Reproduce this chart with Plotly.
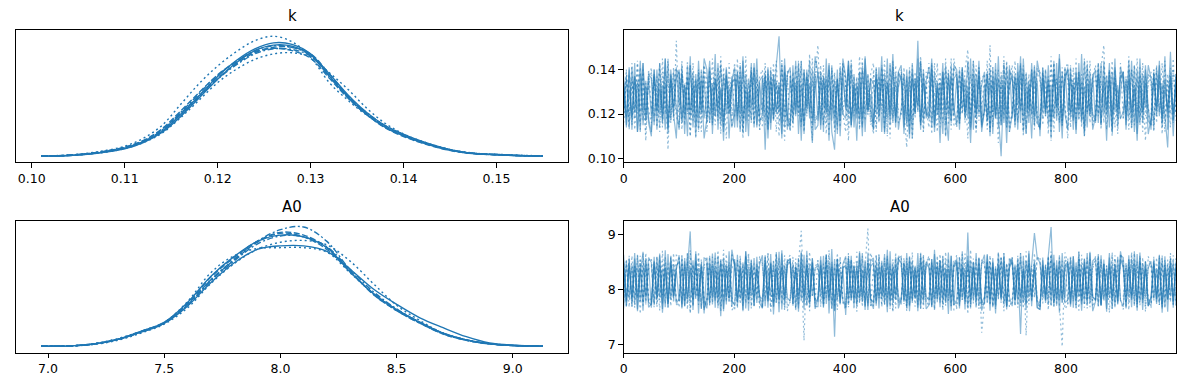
import numpy as np
import plotly.graph_objects as go

BLUE = "#1f77b4"
TRACE_RGBA = "rgba(31,119,180,0.5)"

# ---------------- KDE of k (per chain densities on a common grid) ----------------
k_kde_grid = [0.101, 0.104, 0.107, 0.110, 0.112, 0.114, 0.116, 0.118, 0.120, 0.122, 0.124, 0.126, 0.128,
              0.130, 0.132, 0.134, 0.136, 0.138, 0.140, 0.142, 0.144, 0.146, 0.148, 0.150, 0.152, 0.155]
k_kde_c0 = [0.1, 0.4, 1.5, 3.6, 6.5, 11.2, 18.8, 27.5, 36.2, 43.5, 48.8, 51.5, 50.8, 46.5, 36.5, 27, 19, 13.2, 9.3, 6.2, 3.7, 2.0, 1.1, 0.7, 0.4, 0.1]
k_kde_c1 = [0.2, 0.6, 2.0, 4.6, 8.2, 14.0, 23.5, 33.0, 41.0, 47.5, 52.5, 54.5, 52.0, 45.0, 33.5, 25.5, 18.8, 14.0, 10.0, 6.5, 3.9, 2.1, 1.2, 0.9, 0.6, 0.2]
k_kde_c2 = [0.1, 0.5, 1.7, 4.0, 7.0, 12.0, 19.5, 27.5, 35.5, 42.0, 47.0, 49.5, 49.5, 46.5, 37.5, 27.5, 19.5, 13.5, 9.5, 6.5, 4.0, 2.1, 1.1, 0.8, 0.4, 0.1]
k_kde_c3 = [0.1, 0.4, 1.6, 3.8, 6.6, 11.5, 19.0, 27.0, 35.0, 41.5, 46.5, 48.8, 48.5, 45.5, 36.5, 27.5, 20.0, 14.0, 9.8, 6.5, 4.0, 2.2, 1.2, 0.8, 0.4, 0.1]
k_kde_c4 = [0.1, 0.4, 1.4, 3.4, 6.2, 10.8, 18.0, 26.5, 35.0, 42.5, 48.0, 50.5, 50.0, 46.0, 37.5, 28.0, 20.0, 14.0, 10.0, 6.8, 4.2, 2.2, 1.2, 0.8, 0.4, 0.1]
k_kde_c5 = [0.1, 0.4, 1.4, 3.5, 6.2, 10.5, 17.5, 25.5, 33.5, 39.5, 44.0, 46.5, 47.0, 45.0, 38.0, 30.5, 22.0, 15.0, 10.2, 6.8, 4.2, 2.3, 1.3, 0.9, 0.5, 0.2]
k_kde_c6 = [0.2, 0.5, 1.8, 4.2, 7.2, 12.5, 20.5, 29.0, 37.0, 43.0, 47.5, 49.0, 48.0, 44.5, 35.5, 26.5, 19.0, 13.0, 9.0, 6.0, 3.6, 1.9, 1.0, 0.7, 0.4, 0.1]
k_kde_c7 = [0.1, 0.5, 1.6, 3.9, 6.8, 11.8, 19.8, 28.5, 36.8, 43.0, 48.0, 50.2, 49.5, 45.8, 36.2, 26.8, 19.2, 13.3, 9.3, 6.2, 3.8, 2.0, 1.1, 0.7, 0.4, 0.1]

# ---------------- KDE of A0 ----------------
a0_kde_grid = [6.97, 7.1, 7.2, 7.3, 7.4, 7.5, 7.6, 7.7, 7.8, 7.9, 8.0, 8.1, 8.2, 8.3, 8.4, 8.5, 8.6, 8.7, 8.8, 8.9, 9.0, 9.13]
a0_kde_c0 = [0.005, 0.008, 0.03, 0.08, 0.16, 0.26, 0.45, 0.71, 0.93, 1.08, 1.12, 1.12, 1.06, 0.86, 0.64, 0.47, 0.32, 0.21, 0.11, 0.04, 0.015, 0.005]
a0_kde_c1 = [0.005, 0.007, 0.025, 0.07, 0.15, 0.25, 0.43, 0.70, 0.92, 1.08, 1.16, 1.18, 1.13, 0.95, 0.70, 0.46, 0.29, 0.15, 0.07, 0.03, 0.012, 0.005]
a0_kde_c2 = [0.005, 0.008, 0.03, 0.08, 0.17, 0.27, 0.48, 0.77, 0.99, 1.17, 1.27, 1.24, 1.10, 0.84, 0.58, 0.40, 0.26, 0.14, 0.07, 0.03, 0.012, 0.005]
a0_kde_c3 = [0.005, 0.008, 0.03, 0.08, 0.16, 0.26, 0.46, 0.74, 0.97, 1.17, 1.30, 1.33, 1.17, 0.85, 0.58, 0.40, 0.26, 0.14, 0.07, 0.03, 0.012, 0.005]
a0_kde_c4 = [0.005, 0.008, 0.03, 0.08, 0.17, 0.27, 0.49, 0.78, 1.00, 1.17, 1.24, 1.22, 1.10, 0.83, 0.59, 0.41, 0.27, 0.15, 0.075, 0.032, 0.013, 0.005]
a0_kde_c5 = [0.005, 0.009, 0.035, 0.09, 0.17, 0.27, 0.50, 0.82, 1.01, 1.09, 1.10, 1.10, 1.05, 0.82, 0.59, 0.41, 0.27, 0.15, 0.075, 0.03, 0.012, 0.005]
a0_kde_c6 = [0.005, 0.008, 0.03, 0.08, 0.165, 0.26, 0.47, 0.74, 0.96, 1.16, 1.26, 1.22, 1.08, 0.83, 0.59, 0.41, 0.27, 0.15, 0.075, 0.033, 0.014, 0.005]
a0_kde_c7 = [0.005, 0.008, 0.03, 0.08, 0.16, 0.26, 0.46, 0.73, 0.95, 1.14, 1.23, 1.22, 1.11, 0.86, 0.61, 0.42, 0.27, 0.15, 0.075, 0.032, 0.013, 0.005]

# ---------------- Trace of k (values in thousandths, thinned draws) ----------------
k_trace_c0 = [134,115,141,118,137,112,129,143,117,136, 119,140,113,131,122,145,114,138,120,109,
              139,116,133,110,142,121,135,113,140,118, 128,144,111,136,119,132,108,141,123,137,
              114,139,120,146,112,130,117,143,115,134, 121,138,109,135,118,142,155,116,139,113,
              137,120,144,111,133,116,140,124,107,138, 117,135,112,145,119,131,114,140,110,136,
              123,142,115,133,108,139,118,146,121,129, 113,141,119,136,111,134,122,147,116,132,
              138,114,131,109,143,120,137,115,140,118, 126,145,112,134,117,139,121,108,142,119,
              136,113,141,118,129,107,138,122,144,115, 133,117,140,111,137,120,101,135,114,142,
              118,138,124,146,112,131,116,143,119,135, 110,139,122,136,115,144,117,133,109,141,
              121,137,113,140,118,147,112,134,120,138, 116,143,125,132,108,139,119,145,114,130,
              139,115,136,121,142,111,133,117,140,123, 113,138,119,144,116,131,122,137,110,134]
k_trace_c1 = [118,139,113,135,121,144,116,132,108,140, 122,137,114,142,119,133,104,138,117,153,
              115,140,120,136,110,143,123,134,112,139, 131,116,145,119,137,111,141,124,135,114,
              138,120,133,109,146,117,136,122,140,113, 127,143,115,138,118,134,110,141,121,137,
              112,139,124,144,116,130,119,147,113,136, 151,118,135,111,140,122,138,115,143,120,
              133,108,141,119,136,114,145,121,131,117, 139,112,137,123,144,110,134,118,142,116,
              120,141,114,137,109,135,124,146,118,132, 143,117,130,112,139,121,145,115,136,119,
              114,138,120,140,149,116,133,111,141,123, 136,113,142,118,131,107,139,122,144,115,
              121,137,116,143,110,134,119,140,113,138, 140,115,132,120,146,112,136,117,141,124,
              109,142,118,135,122,138,114,144,116,133, 137,119,141,151,113,139,120,134,111,143,
              118,136,124,140,115,145,119,131,108,138, 134,112,139,121,143,117,135,114,140,120]
k_trace_c2 = [137,114,131,119,143,112,138,121,135,116, 110,140,122,134,117,145,113,136,119,141,
              124,138,111,142,118,133,115,144,120,136, 116,139,121,147,113,131,118,140,109,135,
              141,117,135,112,138,122,143,114,132,119, 136,104,140,116,137,120,134,111,145,118,
              113,142,119,135,108,139,123,144,115,131, 139,115,137,120,143,112,104,136,117,141,
              122,144,114,138,118,133,110,140,121,136, 116,137,125,146,112,134,119,141,114,139,
              135,111,140,117,136,121,145,113,138,120, 118,143,115,132,107,139,122,137,116,142,
              140,117,134,121,144,114,131,119,139,112, 123,138,110,141,118,136,115,143,120,133,
              137,114,139,116,145,121,132,109,140,119, 113,136,120,142,117,138,123,147,115,134,
              141,118,133,111,139,116,144,120,135,113, 119,140,115,137,122,143,112,136,118,141,
              136,120,144,114,131,108,138,121,142,117, 115,139,123,135,119,146,113,137,120,133]
k_trace_c3 = [116,136,120,143,113,134,121,140,111,138, 139,118,132,114,145,120,137,116,141,122,
              121,144,115,137,119,133,109,139,124,142, 112,135,122,140,117,146,114,136,120,131,
              143,119,138,111,134,123,141,115,137,118, 117,140,113,136,121,144,116,133,108,139,
              137,114,142,120,135,112,139,122,145,116, 120,138,115,133,110,141,119,136,114,143,
              134,118,145,123,137,113,140,117,132,121, 111,139,116,142,120,135,109,144,118,137,
              140,121,105,136,115,139,122,143,112,134, 118,142,120,131,114,137,110,140,123,145,
              136,115,139,118,143,121,134,113,141,116, 122,144,112,135,119,140,117,146,114,132,
              139,117,136,123,142,111,138,120,133,115, 114,141,119,137,108,143,122,135,117,140,
              143,120,134,116,139,114,145,121,131,118, 117,137,113,142,124,136,110,140,119,138,
              135,119,146,115,133,121,141,112,137,122, 120,140,116,138,111,144,118,134,121,139]
k_trace_c4 = [135,119,140,113,137,122,144,115,132,118, 112,138,120,143,116,134,111,140,123,136,
              140,117,133,121,146,114,138,119,135,109, 118,141,115,136,123,142,112,137,120,134,
              136,114,142,118,131,110,139,124,145,116, 120,137,113,140,117,135,121,143,114,138,
              141,116,134,122,144,111,137,118,140,113, 115,139,123,136,108,142,119,134,117,145,
              137,120,143,114,133,118,140,112,138,122, 113,136,117,141,121,145,115,132,119,139,
              142,118,137,111,139,120,153,116,134,121, 119,140,114,135,122,143,110,138,117,136,
              138,116,141,120,132,113,144,119,137,114, 121,139,112,136,118,146,115,133,107,140,
              136,117,143,122,138,111,135,120,142,116, 114,141,119,134,109,139,123,145,116,137,
              140,121,136,113,143,118,132,114,139,120, 117,138,115,144,120,135,112,141,122,136,
              139,113,140,119,133,116,145,121,134,111, 118,137,122,142,114,136,120,148,117,138]
k_trace_c5 = [122,140,115,136,118,143,113,138,120,134, 141,116,137,112,139,121,145,117,133,119,
              114,138,122,144,110,136,119,140,116,142, 136,120,133,115,141,118,137,109,143,121,
              119,145,113,139,122,134,116,141,120,137, 140,115,138,121,143,112,135,118,139,114,
              117,136,123,141,114,140,120,133,108,144, 137,119,142,116,135,122,139,113,141,120,
              112,140,118,137,121,146,115,134,119,138, 143,114,136,120,139,111,142,117,133,122,
              120,137,115,141,118,135,124,144,112,139, 134,111,143,119,136,116,140,121,145,115,
              116,141,120,133,109,138,123,142,117,136, 138,115,151,114,140,120,134,118,143,112,
              121,144,117,136,113,139,122,137,115,141, 135,118,140,111,143,119,136,116,138,123,
              113,139,121,145,117,134,110,141,120,137, 142,120,135,116,138,122,144,114,131,118,
              118,137,113,140,124,136,115,143,119,134, 139,116,142,121,133,112,138,120,145,117]
k_trace_c6 = [119,137,114,141,121,135,112,143,117,138, 136,115,140,120,133,113,144,118,139,122,
              113,142,118,136,122,139,110,137,121,145, 140,116,134,119,143,115,138,120,132,114,
              121,139,112,144,117,136,123,141,114,135, 137,118,141,113,138,121,133,109,142,119,
              115,136,120,143,116,140,122,134,118,146, 139,113,137,121,142,117,135,111,140,120,
              118,144,115,133,120,139,114,145,122,136, 134,120,141,112,137,118,143,116,138,113,
              122,138,116,140,109,136,121,144,117,135, 141,114,139,120,134,111,142,119,137,123,
              115,140,122,136,118,145,113,138,120,133, 139,117,134,121,143,114,137,116,141,112,
              120,136,113,142,119,138,122,140,115,144, 137,121,140,115,133,118,143,112,139,120,
              113,141,117,138,122,135,110,142,119,136, 140,116,143,120,137,114,139,121,133,118,
              121,135,118,144,112,140,116,138,123,142, 136,113,141,119,134,120,105,139,117,137]
k_trace_c7 = [131,118,138,115,136,120,141,117,134,122, 116,137,121,143,114,139,118,135,123,140,
              138,113,134,120,142,117,136,112,139,121, 119,140,116,135,122,144,115,138,120,133,
              137,121,143,114,132,119,140,116,136,113, 115,138,122,141,117,134,120,145,118,139,
              140,116,133,119,144,113,137,121,135,117, 121,142,115,137,118,140,112,136,122,143,
              136,114,139,121,134,117,143,120,138,115, 118,141,123,136,113,139,119,144,116,134,
              139,120,135,114,142,118,137,115,140,122, 114,136,119,143,121,135,116,139,113,141,
              137,122,140,116,133,120,144,114,136,119, 120,138,114,141,119,136,122,143,117,135,
              142,115,137,121,139,113,134,118,141,120, 117,139,122,135,116,143,119,137,114,140,
              136,114,141,120,138,117,133,121,144,115, 121,143,116,134,119,140,114,138,122,137,
              139,117,135,113,142,121,137,116,134,120, 115,140,120,137,118,135,122,141,116,138]

# ---------------- Trace of A0 (values in hundredths, thinned draws) ----------------
a0_trace_c0 = [838,772,856,781,843,764,829,868,776,847, 767,851,784,862,758,839,775,857,789,834,
               779,861,770,846,905,763,852,786,841,757, 848,773,865,780,837,752,858,787,845,769,
               855,778,842,761,869,783,836,771,859,790, 766,847,779,864,755,838,782,871,768,844,
               851,774,839,760,866,788,845,777,856,765, 786,860,769,843,781,873,762,849,775,838,
               754,857,784,840,770,866,778,853,763,842, 848,771,862,783,835,759,869,776,844,788,
               773,851,766,858,782,839,761,864,779,846, 840,768,872,777,853,785,836,756,861,772,
               855,781,843,764,903,774,850,787,838,762, 781,862,775,848,757,867,784,841,769,854,
               846,772,857,786,834,763,870,779,849,767, 764,853,780,861,913,776,844,758,866,785,
               852,769,840,782,868,773,855,788,837,761, 778,864,771,847,760,858,784,843,775,869,
               841,766,854,787,838,762,867,779,850,770, 786,849,774,863,758,845,781,856,767,840]
a0_trace_c1 = [779,848,768,861,784,839,756,866,773,852, 857,775,843,762,870,787,847,770,836,781,
               768,862,779,851,757,844,783,868,766,839, 846,771,859,785,833,760,872,777,850,788,
               762,854,774,841,789,867,769,847,781,860, 843,780,866,758,851,776,838,787,862,771,
               777,859,766,848,906,784,855,761,844,778, 853,769,840,787,871,774,846,763,859,782,
               771,866,782,849,760,856,778,841,910,768, 840,777,864,769,852,786,837,759,867,775,
               784,846,761,858,779,843,772,869,765,850, 858,773,839,788,864,767,853,780,845,762,
               766,860,781,847,756,872,775,842,787,855, 849,778,862,770,838,784,857,761,848,779,
               775,844,767,866,781,851,773,839,786,861, 852,787,845,763,869,776,840,771,697,854,
               773,858,779,842,762,863,785,849,768,837, 860,770,851,784,844,758,867,777,856,781,
               764,849,776,866,787,840,771,858,760,845, 848,783,837,772,862,766,854,779,843,790]
a0_trace_c2 = [851,770,843,786,866,761,848,779,857,768, 774,859,781,840,765,871,777,845,789,836,
               862,768,851,775,838,784,864,757,849,780, 766,845,789,867,772,852,761,842,785,858,
               848,778,836,763,869,781,854,770,843,787, 783,862,767,849,776,840,759,865,779,851,
               856,771,845,788,837,764,870,782,846,769, 769,853,780,864,757,841,715,856,773,838,
               844,786,861,770,849,778,835,763,867,782, 777,840,766,852,787,872,769,844,781,857,
               860,779,847,761,838,785,866,774,851,765, 772,855,783,843,768,860,779,838,762,849,
               846,766,869,778,853,787,841,770,858,776, 787,848,762,857,775,844,782,866,769,839,
               853,781,838,720,861,774,847,786,835,768, 764,858,776,845,791,863,771,852,780,843,
               849,773,860,784,837,762,856,778,866,787, 780,843,771,854,765,847,785,839,773,862,
               858,786,840,768,869,779,848,763,851,776, 771,847,783,861,774,838,760,856,785,842]
a0_trace_c3 = [776,855,783,841,767,862,779,849,788,837, 843,768,860,781,852,774,838,786,866,772,
               781,849,773,865,760,846,784,857,767,843, 859,776,838,788,871,769,851,781,840,763,
               770,853,784,847,775,863,766,842,789,856, 847,781,866,768,840,783,857,773,849,761,
               785,842,762,858,779,845,771,868,786,839, 853,773,847,785,862,766,838,780,856,776,
               764,861,780,843,788,852,769,847,775,866, 846,782,839,771,860,785,843,762,855,779,
               779,858,767,851,776,840,788,863,772,845, 861,771,844,784,853,763,868,779,836,786,
               768,849,781,865,772,842,787,855,765,852, 844,786,857,769,839,782,861,774,848,768,
               783,840,773,854,766,869,779,843,786,857, 856,775,846,788,863,770,838,784,852,765,
               772,862,780,841,785,850,767,858,776,845, 849,768,855,779,843,786,864,771,840,783,
               787,845,763,867,774,851,781,839,769,860, 842,780,858,772,848,785,836,777,862,770]
a0_trace_c4 = [863,781,848,769,856,785,838,762,851,777, 772,846,788,865,775,840,767,859,784,843,
               850,766,857,783,842,771,869,780,846,763, 784,861,773,839,787,852,765,847,778,872,
               843,770,855,781,860,762,848,786,837,775, 767,858,779,846,771,864,782,841,788,851,
               854,787,840,766,869,777,845,773,857,781, 779,843,769,862,784,850,761,855,776,846,
               860,772,853,780,838,788,866,769,848,783, 765,849,785,843,774,861,779,838,790,856,
               847,778,866,770,852,783,840,765,859,787, 781,855,763,848,789,842,776,867,771,844,
               852,770,839,785,861,766,849,779,856,773, 774,864,782,850,768,843,787,858,764,841,
               858,783,847,775,836,789,865,770,851,780, 769,841,786,857,772,849,781,862,776,838,
               846,775,860,767,855,784,843,771,868,786, 783,851,772,844,788,866,765,847,779,855,
               840,768,862,781,849,774,857,787,838,770, 787,856,777,842,766,860,783,848,775,851]
a0_trace_c5 = [845,767,861,779,838,786,854,771,866,780, 781,852,773,843,790,859,768,847,776,862,
               860,778,846,764,871,783,841,772,855,787, 771,843,785,857,766,848,779,864,782,838,
               852,786,839,770,861,775,845,789,833,767, 768,859,781,847,773,866,784,840,762,853,
               846,772,856,787,843,708,862,779,849,775, 785,838,767,858,780,845,772,866,788,841,
               857,776,849,764,868,783,837,771,853,789, 770,861,786,842,775,855,765,847,781,863,
               842,783,857,771,849,787,839,766,864,778, 788,849,764,862,779,844,785,856,770,837,
               863,773,845,782,838,768,856,787,846,722, 776,853,788,841,765,867,780,848,773,859,
               844,781,861,770,852,717,843,786,866,775, 767,845,779,860,784,839,772,858,788,850,
               857,788,842,766,869,777,851,783,840,769, 782,861,774,848,787,843,765,856,779,865,
               840,771,855,784,846,767,862,776,851,785, 775,859,787,839,768,854,781,866,773,846]
a0_trace_c6 = [766,852,784,845,773,863,779,840,787,858, 849,772,859,786,838,768,864,781,846,775,
               784,841,770,866,779,853,787,839,765,857, 855,778,846,767,861,785,842,773,869,780,
               772,863,783,849,766,840,788,857,776,845, 862,770,838,787,852,776,868,764,843,785,
               779,847,766,856,781,863,771,845,789,839, 843,788,861,774,848,765,855,783,836,779,
               768,856,781,844,773,869,786,838,770,852, 857,775,842,789,864,769,847,782,859,766,
               786,848,771,860,778,841,767,856,784,850, 842,769,864,783,851,774,838,788,861,772,
               779,858,785,838,766,853,780,866,771,847, 863,776,849,768,842,787,857,773,844,786,
               770,845,782,866,776,851,789,839,902,858, 848,786,841,772,862,769,853,781,837,776,
               781,856,767,849,789,843,774,866,779,852, 857,773,862,782,838,785,846,768,859,781,
               769,842,787,855,771,864,777,848,786,839, 851,784,839,776,858,769,845,788,852,773]
a0_trace_c7 = [848,783,856,769,842,788,861,775,839,790, 776,844,768,855,789,849,773,862,781,838,
               857,772,841,787,865,770,850,783,844,767, 783,859,776,842,770,857,786,838,779,866,
               845,766,862,784,838,779,853,771,848,787, 772,850,789,841,766,868,775,847,783,855,
               862,779,843,771,856,787,839,768,851,776, 787,846,773,863,780,842,770,857,784,840,
               844,768,855,786,839,775,861,781,848,770, 778,863,784,849,772,843,788,855,766,858,
               856,774,839,781,867,769,846,787,838,779, 770,849,787,856,776,861,771,843,785,852,
               841,786,864,773,848,782,839,767,859,775, 783,852,771,840,789,856,776,866,770,845,
               859,770,846,787,838,774,853,781,841,786, 775,843,782,861,769,850,788,839,777,867,
               847,787,838,772,858,781,845,766,855,779, 782,860,770,846,785,839,773,862,787,848,
               853,776,842,788,866,768,851,782,840,771, 768,848,784,857,775,845,789,838,772,861]

N_DRAWS = 1000
k_ticks_kde = [0.10, 0.11, 0.12, 0.13, 0.14, 0.15]
a0_ticks_kde = [7.0, 7.5, 8.0, 8.5, 9.0]
k_ticks_trace = [0.10, 0.12, 0.14]
a0_ticks_trace = [7, 8, 9]
draw_ticks = [0, 200, 400, 600, 800]
titles = ["k", "A0"]

k_kde = [k_kde_c0, k_kde_c1, k_kde_c2, k_kde_c3, k_kde_c4, k_kde_c5, k_kde_c6, k_kde_c7]
a0_kde = [a0_kde_c0, a0_kde_c1, a0_kde_c2, a0_kde_c3, a0_kde_c4, a0_kde_c5, a0_kde_c6, a0_kde_c7]
k_tr = [k_trace_c0, k_trace_c1, k_trace_c2, k_trace_c3, k_trace_c4, k_trace_c5, k_trace_c6, k_trace_c7]
a0_tr = [a0_trace_c0, a0_trace_c1, a0_trace_c2, a0_trace_c3, a0_trace_c4, a0_trace_c5, a0_trace_c6, a0_trace_c7]

DASHES = ["solid", "2px,3px", "6px,2.5px", "6px,2.5px,2px,2.5px"]

fig = go.Figure()

for i, ys in enumerate(k_kde):
    fig.add_trace(go.Scatter(x=k_kde_grid, y=ys, mode="lines", xaxis="x", yaxis="y",
                             line=dict(color=BLUE, width=1.4, dash=DASHES[i % 4], shape="spline", smoothing=1.0),
                             showlegend=False, hoverinfo="skip"))
for i, vals in enumerate(k_tr):
    v = np.array(vals) / 1000.0
    xs = np.linspace(0, N_DRAWS - 1, len(v))
    fig.add_trace(go.Scatter(x=xs, y=v, mode="lines", xaxis="x2", yaxis="y2",
                             line=dict(color=TRACE_RGBA, width=1.2, dash=DASHES[i % 2]),
                             showlegend=False, hoverinfo="skip"))
for i, ys in enumerate(a0_kde):
    fig.add_trace(go.Scatter(x=a0_kde_grid, y=ys, mode="lines", xaxis="x3", yaxis="y3",
                             line=dict(color=BLUE, width=1.4, dash=DASHES[i % 4], shape="spline", smoothing=1.0),
                             showlegend=False, hoverinfo="skip"))
for i, vals in enumerate(a0_tr):
    v = np.array(vals) / 100.0
    xs = np.linspace(0, N_DRAWS - 1, len(v))
    fig.add_trace(go.Scatter(x=xs, y=v, mode="lines", xaxis="x4", yaxis="y4",
                             line=dict(color=TRACE_RGBA, width=1.2, dash=DASHES[i % 2]),
                             showlegend=False, hoverinfo="skip"))

# the page body has an 8px margin: size the figure to fit the window and offset coordinates
OFF = 8
W, H = 1186 - 2 * OFF, 390 - 2 * OFF
def dx(a, b):
    return [(a - OFF) / W, (b - OFF) / W]
def dy(top, bottom):
    return [1 - (bottom - OFF) / H, 1 - (top - OFF) / H]

FONT = dict(family="DejaVu Sans", size=12.5, color="black")
common = dict(showline=True, linecolor="black", linewidth=1, mirror=True, ticks="outside",
              ticklen=4.5, tickwidth=1, tickcolor="black", showgrid=False, zeroline=False,
              tickfont=FONT)

LX = dx(12, 566)
RX = dx(621.7, 1176)
TY = dy(30.5, 164)
BY = dy(223.3, 356.3)

k_lo, k_hi = min(k_kde_grid), max(k_kde_grid)
k_pad = 0.05 * (k_hi - k_lo)
a_lo, a_hi = min(a0_kde_grid), max(a0_kde_grid)
a_pad = 0.05 * (a_hi - a_lo)
k_dmax = max(max(c) for c in k_kde)
a_dmax = max(max(c) for c in a0_kde)

fig.update_layout(
    width=W, height=H, margin=dict(l=0, r=0, t=0, b=0),
    paper_bgcolor="white", plot_bgcolor="white", font=FONT,
    xaxis=dict(domain=LX, anchor="y", range=[k_lo - k_pad, k_hi + k_pad], tickvals=k_ticks_kde,
               ticktext=[f"{t:.2f}" for t in k_ticks_kde], **common),
    yaxis=dict(domain=TY, anchor="x", range=[-0.05 * k_dmax, 1.05 * k_dmax], showticklabels=False,
               **{**common, "ticks": ""}),
    xaxis2=dict(domain=RX, anchor="y2", range=[0, N_DRAWS - 1], tickvals=draw_ticks, **common),
    yaxis2=dict(domain=TY, anchor="x2", range=[k_lo - k_pad, k_hi + k_pad], tickvals=k_ticks_trace,
                ticktext=[f"{t:.2f}" for t in k_ticks_trace], **common),
    xaxis3=dict(domain=LX, anchor="y3", range=[a_lo - a_pad, a_hi + a_pad], tickvals=a0_ticks_kde,
                ticktext=[f"{t:.1f}" for t in a0_ticks_kde], **common),
    yaxis3=dict(domain=BY, anchor="x3", range=[-0.05 * a_dmax, 1.05 * a_dmax], showticklabels=False,
                **{**common, "ticks": ""}),
    xaxis4=dict(domain=RX, anchor="y4", range=[0, N_DRAWS - 1], tickvals=draw_ticks, **common),
    yaxis4=dict(domain=BY, anchor="x4", range=[a_lo - a_pad, a_hi + a_pad], tickvals=a0_ticks_trace,
                **common),
)

TFONT = dict(family="DejaVu Sans", size=15, color="black")
for xd, yd, t in [(LX, TY, titles[0]), (RX, TY, titles[0]), (LX, BY, titles[1]), (RX, BY, titles[1])]:
    fig.add_annotation(x=(xd[0] + xd[1]) / 2, y=yd[1], xref="paper", yref="paper", text=t,
                       showarrow=False, xanchor="center", yanchor="bottom", yshift=3, font=TFONT)

fig.write_html("out.html")
